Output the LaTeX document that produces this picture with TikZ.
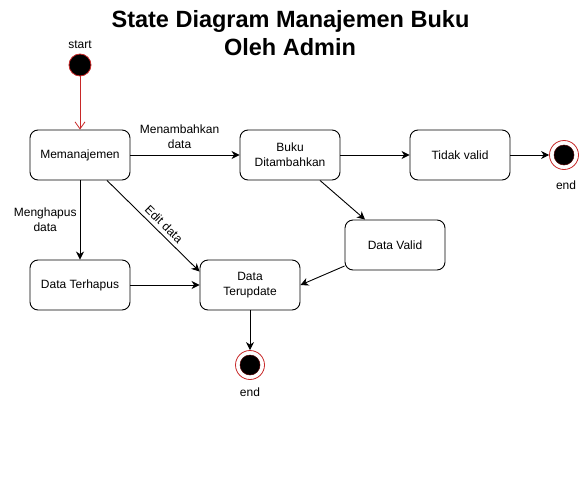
\documentclass[tikz,border=0pt]{standalone}
\usepackage{fontspec}
\setmainfont{Liberation Sans}
\usetikzlibrary{arrows.meta}
\definecolor{startred}{RGB}{200,40,40}
\tikzset{
  statebox/.style={draw, line width=0.9pt, rounded corners=8pt, minimum width=100pt, minimum height=50pt, inner sep=0pt, align=center, font=\fontsize{12}{15}\selectfont},
  lbl/.style={font=\fontsize{12}{15}\selectfont, align=center, inner sep=1pt},
  flow/.style={line width=0.9pt, -{Stealth[length=8pt,width=8pt,inset=2.5pt]}},
  startdot/.style={circle, fill=black, draw=startred, line width=0.8pt, minimum size=22pt, inner sep=0pt},
  endring/.style={circle, fill=white, draw=startred, line width=0.8pt, minimum size=29pt, inner sep=0pt},
  enddot/.style={circle, fill=black, draw=black!70!red, line width=0.5pt, minimum size=20pt, inner sep=0pt},
}
\begin{document}
\begin{tikzpicture}[x=1pt,y=-1pt]
\useasboundingbox (0,0) rectangle (585,495);
\fill[white] (0,0) rectangle (585,495);
% title
\node[anchor=base, font=\fontsize{23.5}{28}\selectfont\bfseries, inner sep=0pt] (title1) at (290.5,28) {State Diagram Manajemen Buku};
\node[anchor=base, font=\fontsize{23.5}{28}\selectfont\bfseries, inner sep=0pt] (title2) at (290,56) {Oleh Admin};
% start
\node[startdot] (start) at (80,65) {};
\node[lbl] (startlbl) at (80,45) {start};
% states
\node[statebox] (mem) at (80,155) {Memanajemen};
\node[statebox] (buku) at (290,155) {Buku\\Ditambahkan};
\node[statebox] (tidak) at (460,155) {Tidak valid};
\node[statebox] (valid) at (395,245) {Data Valid};
\node[statebox] (hapus) at (80,285) {Data Terhapus};
\node[statebox] (upd) at (250,285) {Data\\Terupdate};
% end right
\node[endring] (endR) at (564,155) {};
\node[enddot] (endRin) at (564,155) {};
\node[lbl] (endRlbl) at (566,185) {end};
% end bottom
\node[endring] (endB) at (250,365) {};
\node[enddot] (endBin) at (250,365) {};
\node[lbl] (endBlbl) at (250,392) {end};
% connectors
\draw[line width=0.8pt, draw=startred, -{Straight Barb[length=7pt,width=10pt]}] (start) -- (mem);
\draw[flow] (mem) -- node[lbl, pos=0.45, above=5pt] {Menambahkan\\data} (buku);
\draw[flow] (buku) -- (tidak);
\draw[flow] (tidak) -- (endR);
\draw[flow] (mem) -- node[lbl, left=2pt] {Menghapus\\data} (hapus);
\draw[flow] ([xshift=27pt]mem.south) -- node[lbl, sloped, above=3pt, pos=0.55] {Edit data} ([yshift=-12pt]upd.north west);
\draw[flow] ([xshift=30pt]buku.south) -- ([xshift=-30pt]valid.north);
\draw[flow] ([yshift=-21pt]valid.west) -- (upd.east);
\draw[flow] (hapus) -- (upd);
\draw[flow] (upd) -- (endB);
\end{tikzpicture}
\end{document}
